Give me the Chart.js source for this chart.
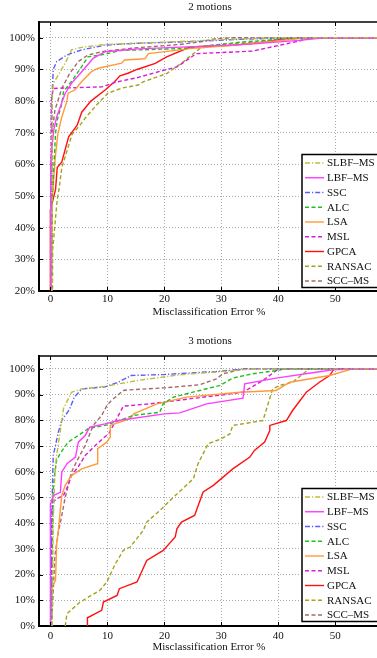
<!DOCTYPE html>
<html><head><meta charset="utf-8">
<script src="https://cdn.jsdelivr.net/npm/chart.js@4"></script>
<style>
html,body{margin:0;padding:0;overflow:hidden;background:#fff;width:377px;height:658px}
.wrap{position:absolute;left:0;width:420px}
canvas{display:block}
</style></head><body>
<div class="wrap" style="top:0;height:334px"><canvas id="c1" width="420" height="334"></canvas></div>
<div class="wrap" style="top:334px;height:324px"><canvas id="c2" width="420" height="324"></canvas></div>
<script>
// ---- labels & ticks ----
const methodNames = ['SLBF–MS','LBF–MS','SSC','ALC','LSA','MSL','GPCA','RANSAC','SCC–MS'];
const chartTitles = ['2 motions','3 motions'];
const xAxisTitle = 'Misclassification Error %';
const xTicks = [0,10,20,30,40,50,60];
const yTicks2 = [20,30,40,50,60,70,80,90,100];
const yTicks3 = [0,10,20,30,40,50,60,70,80,90,100];

// ---- 2 motions: [error %, cumulative %] ----
const m2SLBF = [[0.3,0],[0.3,80],[0.5,85.6],[1.4,88.3],[2.6,92],[3.7,96.2],[5.5,97],[9.6,97.9],[15.4,98.3],[25,99],[32,99.6],[40,100],[66,100]];
const m2LBF = [[0,0],[0.05,60],[0.3,66],[0.6,71],[1.1,75],[1.7,78],[2.6,82.5],[3.7,85.6],[5.5,89.3],[7.5,93.5],[9.6,95.6],[15.4,96.5],[26.2,97.3],[35,98],[43.7,99.2],[48,100],[66,100]];
const m2SSC = [[0.1,0],[0.2,60],[0.3,82],[0.5,90],[1.1,92.5],[2.9,94.6],[5.5,96.2],[9.6,97.7],[15.4,98.3],[25,98.8],[33,99.5],[42,100],[66,100]];
const m2ALC = [[0.2,0],[0.3,48],[0.6,59],[0.9,69.8],[1.2,74],[2,79.2],[2.3,83],[3.7,86.2],[5.5,90.9],[6.6,94],[9.6,94.8],[12.2,96],[22.7,96.6],[28,97.6],[33.8,98.7],[37.9,99.2],[43,100],[66,100]];
const m2LSA = [[0.1,0],[0.3,48],[0.6,56],[0.9,63],[1.3,69.5],[2,75],[2.9,80],[3.1,82.5],[4.3,83.5],[5.5,86.2],[7.2,89.3],[8.4,90.4],[12.5,92],[13,93],[16.6,93.4],[17.2,95],[24.5,96.6],[32,97.6],[37.9,98.7],[45,100],[66,100]];
const m2MSL = [[0.1,0],[0.15,80],[0.5,84],[1.4,84.1],[9,84.5],[11.5,86],[15.2,87.4],[19.8,89.7],[22.2,90.8],[25.6,95],[35.5,95.8],[43.7,99],[44.7,99.6],[46,100],[66,100]];
const m2GPCA = [[0,0],[0,45.6],[0.9,52],[1.2,59],[2,60.8],[3.2,68.7],[4.7,72.4],[5.5,76.5],[7.1,80],[9.6,83.5],[11.3,86.2],[12.2,88],[13.6,88.8],[15.2,90],[18.4,91.9],[20.4,94],[24.5,97.1],[32,97.6],[37.9,98.7],[40.8,99.7],[43,100],[66,100]];
const m2RANSAC = [[0.3,0],[0.4,33],[1.2,49],[1.5,52],[2,59],[3.8,69.5],[5.2,72.4],[6.1,74.6],[8.1,78.8],[10.1,82.5],[12.5,84.1],[15.4,85.1],[16.3,86.1],[20.4,88.7],[23.3,92.4],[26.2,96.6],[28,97.5],[35,98.5],[40,99.5],[45,100],[66,100]];
const m2SCC = [[0.2,0],[0.3,70],[0.8,77.2],[2,84],[3.4,88.8],[4.9,92.5],[6.6,94.6],[9.6,95.8],[15.4,96.9],[22.7,97.9],[26.2,98.7],[29,99.7],[32,100],[66,100]];

// ---- 3 motions ----
const m3SLBF = [[0.3,0],[0.5,40],[0.8,60],[1.1,66.3],[1.7,75.4],[2.3,84.5],[3.7,90.9],[5.5,92.2],[9.6,93.2],[15.4,95.5],[22.7,97.7],[32,99.3],[35.5,100],[66,100]];
const m3LBF = [[0,0],[0,47.5],[0.6,50.8],[1.75,52],[2,59.8],[2.9,63.1],[4.4,65.7],[4.9,71.5],[6.1,74.1],[6.9,77.3],[9.6,78.6],[11.9,79.9],[20,82.5],[22.7,82.9],[27.4,86.4],[33.8,88.6],[34.1,94.2],[39.6,96.4],[46.6,98.7],[49.5,99.6],[55,100],[66,100]];
const m3SSC = [[0.1,0],[0.2,40],[0.5,66.3],[1.4,75.4],[2,80],[3.3,84],[4.2,89],[5.5,92.2],[9.6,93],[11.9,94.8],[13.6,96.7],[14,97.4],[20,97.8],[29.1,99],[34.4,100],[66,100]];
const m3ALC = [[0.2,0],[0.4,40],[0.5,53.4],[0.8,59.8],[1.1,64.5],[1.7,67],[3.1,71.5],[4.9,74.1],[6.6,76.7],[9.6,78],[14.6,81.9],[19.2,83.1],[19.8,86.4],[21.6,89],[26.2,91.6],[29.7,93.5],[32,96.4],[35.5,98.1],[39.6,99.3],[41,100],[66,100]];
const m3LSA = [[0,0],[0.05,3.5],[0.3,15.2],[0.9,17.8],[1.1,32],[1.4,37],[1.7,44.3],[2,50.8],[2.6,54.7],[3.7,58.5],[5.5,61.1],[8.2,63.1],[8.3,69],[9.9,71.5],[10.5,73.5],[10.5,78],[14,80.6],[14.6,82.5],[18.7,86.4],[23.9,89],[33.2,90.9],[39.6,91.6],[42,94.8],[49,97.4],[53,100],[66,100]];
const m3MSL = [[0.1,0],[0.2,40],[0.4,48],[1.1,49.5],[2.3,50.8],[3.1,54.7],[3.7,58.5],[4.9,62],[6.1,66.3],[8.2,70.9],[10.3,75],[11.5,80],[12.8,85.5],[17.5,86.4],[25,88.5],[29.1,89.6],[33.8,90.9],[37.3,95.5],[39.6,99.3],[41,100],[66,100]];
const m3GPCA = [[6.5,0],[6.5,3.2],[9,6.1],[9.3,9.3],[11.7,11.9],[12.1,14.5],[15.2,17.1],[16.9,25.5],[19.8,29.4],[21.9,34.6],[22.2,37.8],[23,40.4],[25.3,43],[26.8,52.1],[28.6,54.7],[32,61.1],[35,65.7],[35.8,68.3],[37.6,71.5],[38.5,76],[38.5,78],[41.4,79.9],[42.5,83.8],[44.9,90.9],[47.2,94.8],[49,97.4],[49.8,100],[66,100]];
const m3RANSAC = [[2.6,0],[2.9,4.8],[5.2,9.3],[8.7,13.9],[9.9,17.1],[11.4,24.2],[12.8,29.4],[14,30.7],[16.3,37.2],[16.9,40.4],[19.2,44.9],[21.6,50.1],[25.1,57.3],[25.9,63.1],[27.7,70.9],[30,72.8],[31.5,74.7],[32,78],[37.3,79.9],[39,92.2],[40.2,93.5],[42.5,94.8],[44.3,98],[45.5,100],[66,100]];
const m3SCC = [[0.2,0],[0.8,27.5],[1.4,36.5],[2,43],[2.6,50],[3.7,59.8],[4.6,64],[6.1,70.2],[7.5,78],[9,81.9],[9.9,85.7],[10.7,87.7],[12.8,91.6],[13.6,91.8],[20,92.6],[26.2,93.8],[29.1,96.1],[30.3,98.1],[33.8,100],[66,100]];

// ---- styles ----
const DASH = [4,2.5], DASHDOT = [5,2,1.2,2], SOLID = [];
const lineColors = ['#bdbd3c','#ff3cff','#5b5bff','#1fbf1f','#ff9a3c','#d81cd8','#ff1010','#a3a31f','#a36b6b'];
const lineDashes = [DASHDOT,SOLID,DASHDOT,DASH,SOLID,DASH,SOLID,DASH,DASH];
const FONT = "'Liberation Serif','Times New Roman',serif";
const TXT = '#111';

const framePlugin = {
  id: 'frame',
  afterDatasetsDraw(chart) {
    const ctx = chart.ctx, a = chart.chartArea;
    const xs = chart.scales.x, ys = chart.scales.y;
    ctx.save();
    ctx.strokeStyle = '#000'; ctx.lineWidth = 1.5; ctx.setLineDash([]);
    ctx.beginPath(); ctx.moveTo(a.left, a.top); ctx.lineTo(a.right, a.top); ctx.stroke();
    ctx.lineWidth = 1;
    xs.ticks.forEach(t => {
      const px = Math.round(xs.getPixelForValue(t.value)) + 0.5;
      ctx.beginPath(); ctx.moveTo(px, a.bottom); ctx.lineTo(px, a.bottom - 4);
      ctx.moveTo(px, a.top); ctx.lineTo(px, a.top + 4); ctx.stroke();
    });
    ys.ticks.forEach(t => {
      const py = Math.round(ys.getPixelForValue(t.value)) + 0.5;
      ctx.beginPath(); ctx.moveTo(a.left, py); ctx.lineTo(a.left + 4, py); ctx.stroke();
    });
    const bx = 302, by = 154.5, bh = 133;
    ctx.fillStyle = '#fff'; ctx.fillRect(bx, by, 200, bh);
    ctx.lineWidth = 1.5; ctx.strokeStyle = '#000';
    ctx.strokeRect(bx, by, 200, bh);
    ctx.font = '11px ' + FONT; ctx.textBaseline = 'middle'; ctx.textAlign = 'left';
    chart.data.datasets.forEach((ds, i) => {
      const y = 163 + i * 14.75;
      ctx.strokeStyle = ds.borderColor; ctx.lineWidth = 1.4; ctx.setLineDash(ds.borderDash);
      ctx.beginPath(); ctx.moveTo(305, y); ctx.lineTo(324, y); ctx.stroke();
      ctx.setLineDash([]);
      ctx.fillStyle = TXT; ctx.fillText(ds.label, 327, y + 0.5);
    });
    ctx.restore();
  }
};

function makeChart(id, title, seriesList, yMin, yTicks, xHeight, tickPad, titlePad) {
  const datasets = seriesList.map((s, i) => ({
    label: methodNames[i],
    data: s.map(([x, y]) => ({x, y})),
    borderColor: lineColors[i],
    borderDash: lineDashes[i],
    borderWidth: 1.4,
    pointRadius: 0,
    fill: false,
    tension: 0
  }));
  const font = {family: FONT, size: 11, weight: 'normal'};
  return new Chart(document.getElementById(id), {
    type: 'line',
    data: {datasets},
    options: {
      responsive: false, animation: false,
      layout: {padding: 0},
      plugins: {
        legend: {display: false}, tooltip: {enabled: false},
        title: {display: true, text: title, font, color: TXT, padding: {top: 1, bottom: 7.8}}
      },
      scales: {
        x: {
          type: 'linear', min: -2, max: 57.66,
          afterBuildTicks: s => { s.ticks = xTicks.filter(v => v <= s.max).map(v => ({value: v})); },
          afterFit: s => { s.height = xHeight; },
          ticks: {font, color: TXT, padding: tickPad, maxRotation: 0, autoSkip: false, callback: v => String(v)},
          grid: {color: '#a8a8a8', lineWidth: 1, drawTicks: false},
          border: {display: true, color: '#000', width: 2, dash: [1, 2]},
          title: {display: true, text: xAxisTitle, font, color: TXT, padding: {top: 0, bottom: titlePad}}
        },
        y: {
          type: 'linear', min: yMin, max: 105,
          afterBuildTicks: s => { s.ticks = yTicks.map(v => ({value: v})); },
          afterFit: s => { s.width = 39; },
          ticks: {font, color: TXT, padding: 4, autoSkip: false, callback: v => v + '%'},
          grid: {color: '#a8a8a8', lineWidth: 1, drawTicks: false},
          border: {display: true, color: '#000', width: 2, dash: [1, 2]}
        },
        yRight: {
          type: 'linear', position: 'right', min: 0, max: 1,
          afterFit: s => { s.width = 41; },
          ticks: {display: false},
          grid: {drawOnChartArea: false, drawTicks: false},
          border: {display: false}
        }
      }
    },
    plugins: [framePlugin]
  });
}

makeChart('c1', chartTitles[0], [m2SLBF,m2LBF,m2SSC,m2ALC,m2LSA,m2MSL,m2GPCA,m2RANSAC,m2SCC], 20, yTicks2, 43, 2, 15.7);
makeChart('c2', chartTitles[1], [m3SLBF,m3LBF,m3SSC,m3ALC,m3LSA,m3MSL,m3GPCA,m3RANSAC,m3SCC], 0, yTicks3, 32, 4, 4.1);
</script>
</body></html>
